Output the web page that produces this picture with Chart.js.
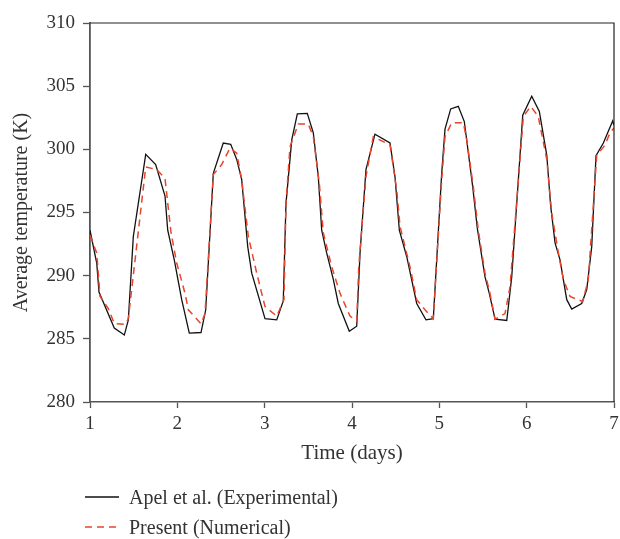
<!DOCTYPE html>
<html>
<head>
<meta charset="utf-8">
<script src="https://cdn.jsdelivr.net/npm/chart.js@4"></script>
<style>
    body { margin: 0; background: #fff; }
    #wrap { position: relative; width: 620px; height: 539px; }
    #legend { position: absolute; left: 85px; top: 482px; font-family: "Liberation Serif", serif; font-size: 20px; color: #333; }
    .item { display: flex; align-items: center; height: 30px; }
    .item svg { margin-right: 10px; }
</style>
</head>
<body>
<div id="wrap">
    <canvas id="tempChart" width="620" height="539"></canvas>
    <div id="legend">
        <div class="item"><svg width="34" height="4"><line x1="0" y1="2" x2="34" y2="2" stroke="#111" stroke-width="1.5"/></svg>Apel et al. (Experimental)</div>
        <div class="item"><svg width="34" height="4"><line x1="0" y1="2" x2="34" y2="2" stroke="#e8452c" stroke-width="1.5" stroke-dasharray="7,5"/></svg>Present (Numerical)</div>
    </div>
</div>
<script>
// values
const expDays = [1.000, 1.077, 1.103, 1.278, 1.393, 1.439, 1.496, 1.638, 1.752, 1.859, 1.890, 1.965, 2.050, 2.137, 2.271, 2.325, 2.412, 2.526, 2.611, 2.680, 2.737, 2.806, 2.852, 3.004, 3.138, 3.213, 3.244, 3.310, 3.374, 3.488, 3.557, 3.614, 3.653, 3.710, 3.786, 3.843, 3.969, 4.054, 4.092, 4.160, 4.263, 4.435, 4.492, 4.542, 4.627, 4.741, 4.847, 4.931, 5.027, 5.065, 5.130, 5.217, 5.286, 5.382, 5.435, 5.523, 5.572, 5.638, 5.772, 5.829, 5.955, 6.058, 6.145, 6.230, 6.275, 6.325, 6.382, 6.459, 6.516, 6.630, 6.688, 6.745, 6.794, 6.878, 6.985, 7.000];
const expTemp = [293.6, 291.0, 288.7, 285.85, 285.3, 286.5, 293.1, 299.6, 298.8, 296.3, 293.6, 291.25, 288.1, 285.45, 285.5, 287.3, 298.1, 300.5, 300.4, 299.2, 297.6, 292.3, 290.2, 286.6, 286.5, 288.0, 295.7, 300.75, 302.8, 302.85, 301.3, 297.85, 293.6, 291.8, 289.7, 287.8, 285.6, 286.0, 291.8, 298.4, 301.2, 300.5, 297.85, 293.6, 291.5, 287.8, 286.5, 286.6, 298.1, 301.6, 303.2, 303.4, 302.2, 297.05, 293.75, 289.9, 288.6, 286.55, 286.45, 289.9, 302.7, 304.2, 303.0, 299.55, 295.5, 292.6, 291.25, 288.1, 287.35, 287.8, 288.9, 292.3, 299.5, 300.5, 302.25, 301.9];

const numDays = [1.000, 1.077, 1.115, 1.210, 1.278, 1.409, 1.439, 1.638, 1.764, 1.859, 1.928, 1.993, 2.088, 2.126, 2.271, 2.317, 2.412, 2.508, 2.603, 2.680, 2.737, 2.813, 2.909, 3.004, 3.138, 3.221, 3.244, 3.290, 3.385, 3.500, 3.557, 3.626, 3.671, 3.768, 3.863, 3.977, 4.054, 4.077, 4.160, 4.244, 4.435, 4.512, 4.550, 4.664, 4.741, 4.836, 4.931, 5.027, 5.065, 5.141, 5.275, 5.314, 5.389, 5.446, 5.523, 5.580, 5.638, 5.752, 5.809, 5.962, 6.046, 6.133, 6.230, 6.287, 6.363, 6.420, 6.497, 6.642, 6.706, 6.783, 6.802, 6.897, 6.954, 7.000];
const numTemp = [293.2, 291.8, 288.35, 287.4, 286.2, 286.15, 286.6, 298.6, 298.4, 297.7, 293.4, 291.0, 288.6, 287.3, 286.2, 287.0, 298.0, 298.8, 300.1, 299.7, 297.6, 293.1, 290.2, 287.55, 286.8, 288.1, 295.7, 300.2, 302.0, 302.0, 301.0, 297.3, 293.4, 290.7, 288.6, 286.8, 286.4, 290.7, 297.85, 301.0, 300.35, 296.8, 293.9, 290.7, 288.1, 287.3, 286.6, 297.6, 301.0, 302.1, 302.1, 300.75, 297.05, 293.6, 290.2, 288.6, 286.55, 287.0, 289.1, 302.6, 303.4, 302.6, 299.2, 294.95, 291.8, 289.7, 288.35, 287.95, 289.7, 297.6, 299.5, 300.35, 301.3, 301.7];

const xTicks = [1, 2, 3, 4, 5, 6, 7];
const yTicks = [280, 285, 290, 295, 300, 305, 310];

const toPoints = (xs, ys) => xs.map((x, i) => ({ x, y: ys[i] }));

// top and right frame lines
const framePlugin = {
    id: 'frame',
    afterDraw(chart) {
        const { ctx, chartArea: a } = chart;
        ctx.save();
        ctx.strokeStyle = '#222';
        ctx.lineWidth = 1.2;
        ctx.beginPath();
        ctx.moveTo(a.left, a.top);
        ctx.lineTo(a.right, a.top);
        ctx.lineTo(a.right, a.bottom);
        ctx.stroke();
        ctx.restore();
    }
};

const font = { family: '"Liberation Serif", serif', size: 19 };
const axisColor = '#555';

new Chart(document.getElementById('tempChart').getContext('2d'), {
    type: 'line',
    data: {
        datasets: [{
            label: 'Present (Numerical)',
            data: toPoints(numDays, numTemp),
            borderColor: '#e8452c',
            borderWidth: 1.5,
            borderDash: [7, 5],
            pointRadius: 0,
            tension: 0,
            fill: false,
            order: 0
        }, {
            label: 'Apel et al. (Experimental)',
            data: toPoints(expDays, expTemp),
            borderColor: '#111',
            borderWidth: 1.3,
            pointRadius: 0,
            tension: 0,
            fill: false,
            order: 1
        }]
    },
    options: {
        responsive: false,
        animation: false,
        layout: { padding: { left: 0, top: 23, right: 6, bottom: 57 } },
        plugins: { legend: { display: false }, tooltip: { enabled: false } },
        scales: {
            x: {
                type: 'linear',
                min: 1,
                max: 7,
                afterBuildTicks: s => { s.ticks = xTicks.map(v => ({ value: v })); },
                afterFit: s => {
                    s.height = 80;
                    s.paddingLeft = 0;
                    s.paddingRight = 0;
                },
                ticks: { font, color: '#333', padding: 5, maxRotation: 0 },
                grid: { drawOnChartArea: false, drawTicks: true, tickLength: 6, color: axisColor, tickWidth: 1.3 },
                border: { color: axisColor, width: 1.6 },
                title: { display: true, text: 'Time (days)', font: { family: font.family, size: 21 }, color: '#333', padding: { top: 0, bottom: 16 } }
            },
            y: {
                min: 280,
                max: 310,
                afterBuildTicks: s => { s.ticks = yTicks.map(v => ({ value: v })); },
                afterFit: s => {
                    s.width = 90;
                    s.paddingTop = 0;
                    s.paddingBottom = 0;
                },
                ticks: { font, color: '#333', padding: 8 },
                grid: { drawOnChartArea: false, drawTicks: true, tickLength: 7, color: axisColor, tickWidth: 1.3 },
                border: { color: axisColor, width: 1.8 },
                title: { display: true, text: 'Average temperature (K)', font: { family: font.family, size: 20 }, color: '#333', padding: { top: 10, bottom: 0 } }
            }
        }
    },
    plugins: [framePlugin]
});
</script>
</body>
</html>
